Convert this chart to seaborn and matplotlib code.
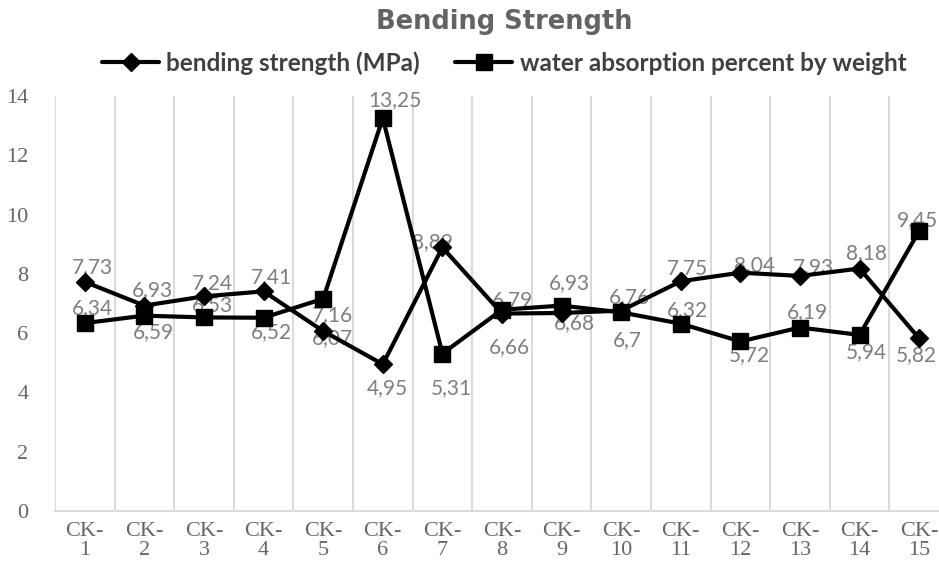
import numpy as np
import pandas as pd
import matplotlib
matplotlib.use("Agg")
import matplotlib.pyplot as plt
import seaborn as sns

# Samples and measured values
samples = [f"CK-{i}" for i in range(1, 16)]
bending_strength = [7.73, 6.93, 7.24, 7.41, 6.07, 4.95, 8.89, 6.66, 6.68, 6.76,
                    7.75, 8.04, 7.93, 8.18, 5.82]
water_absorption = [6.34, 6.59, 6.53, 6.52, 7.16, 13.25, 5.31, 6.79, 6.93, 6.7,
                    6.32, 5.72, 6.19, 5.94, 9.45]
y_ticks = [0, 2, 4, 6, 8, 10, 12, 14]

bend_name = "bending strength (MPa)"
water_name = "water absorption percent by weight"

# Data-label placement (pixel offsets from each point: right, up)
bend_label_offsets = [(8, 15), (8, 15), (8, 13), (8, 14), (9, -7), (5, -24),
                      (-10, 5), (7, -34), (13, -10), (8, 14), (7, 13), (14, 8),
                      (13, 9), (7, 15), (-3, -17)]
water_label_offsets = [(8, 15), (9, -16), (8, 12), (8, -14), (9, -16), (12, 18),
                       (9, -34), (10, 10), (8, 22), (6, -28), (7, 14), (9, -14),
                       (7, 15), (7, -17), (-2, 11)]

df = pd.DataFrame({
    "sample": samples,
    bend_name: bending_strength,
    water_name: water_absorption,
})

sns.set_theme(style="white")
plt.rcParams["font.family"] = ["Lato", "DejaVu Sans"]

fig = plt.figure(figsize=(9.39, 5.69), dpi=100)
ax = fig.add_axes([55 / 939, 1 - 511 / 569, 894 / 939, 415 / 569])

line_kw = dict(color="black", linewidth=3.0, markeredgewidth=1.0,
               markeredgecolor="black", zorder=3)
sns.lineplot(data=df, x="sample", y=bend_name, marker="D", markersize=9,
             label=bend_name, ax=ax, **line_kw)
sns.lineplot(data=df, x="sample", y=water_name, marker="s", markersize=11.5,
             label=water_name, ax=ax, **line_kw)

label_color = "#7f7f7f"
for series, offsets in ((bending_strength, bend_label_offsets),
                        (water_absorption, water_label_offsets)):
    for i, (v, (dx, dy)) in enumerate(zip(series, offsets)):
        ax.annotate(f"{v:g}".replace(".", ","), (i, v), xytext=(dx, dy),
                    textcoords="offset pixels", ha="center", va="center",
                    fontsize=15, color=label_color, zorder=1)

ax.set_xlim(-0.5, len(samples) - 0.5)
ax.set_ylim(0, 14)
ax.set_yticks(y_ticks)
ax.set_yticklabels([str(t) for t in y_ticks])
ax.set_xticks(range(len(samples)))
ax.set_xticklabels([s.replace("-", "-\n") for s in samples])
ax.set_xticks(np.arange(-0.5, len(samples), 1.0), minor=True)
ax.grid(False)
ax.grid(which="minor", axis="x", color="#d9d9d9", linewidth=1.4)
ax.set_xlabel("")
ax.set_ylabel("")

tick_color = "#666666"
for lab in ax.get_xticklabels() + ax.get_yticklabels():
    lab.set_fontfamily("Liberation Serif")
    lab.set_fontsize(16)
    lab.set_color(tick_color)
    lab.set_linespacing(1.0)
ax.tick_params(axis="x", which="both", length=0, pad=8)
ax.tick_params(axis="y", which="both", length=0, pad=19)

for side in ("top", "right", "left"):
    ax.spines[side].set_visible(False)
ax.spines["bottom"].set_color("#d9d9d9")
ax.spines["bottom"].set_linewidth(1.4)

handles, labels = ax.get_legend_handles_labels()
ax.get_legend().remove()
leg = fig.legend(handles, labels, loc="center", ncol=2,
                 bbox_to_anchor=(0.537, 1 - 63 / 569), frameon=False,
                 handlelength=2.35, handletextpad=0.3, columnspacing=1.45,
                 prop={"family": ["Lato", "DejaVu Sans"], "weight": "bold",
                       "size": 17.5})
for t in leg.get_texts():
    t.set_color("#404040")

fig.text(0.537, 1 - 22 / 569, "Bending Strength", ha="center", va="center",
         fontsize=18.5, fontweight="bold", color="#636363",
         family=["DejaVu Sans"])

fig.savefig("out.png", dpi=100)
